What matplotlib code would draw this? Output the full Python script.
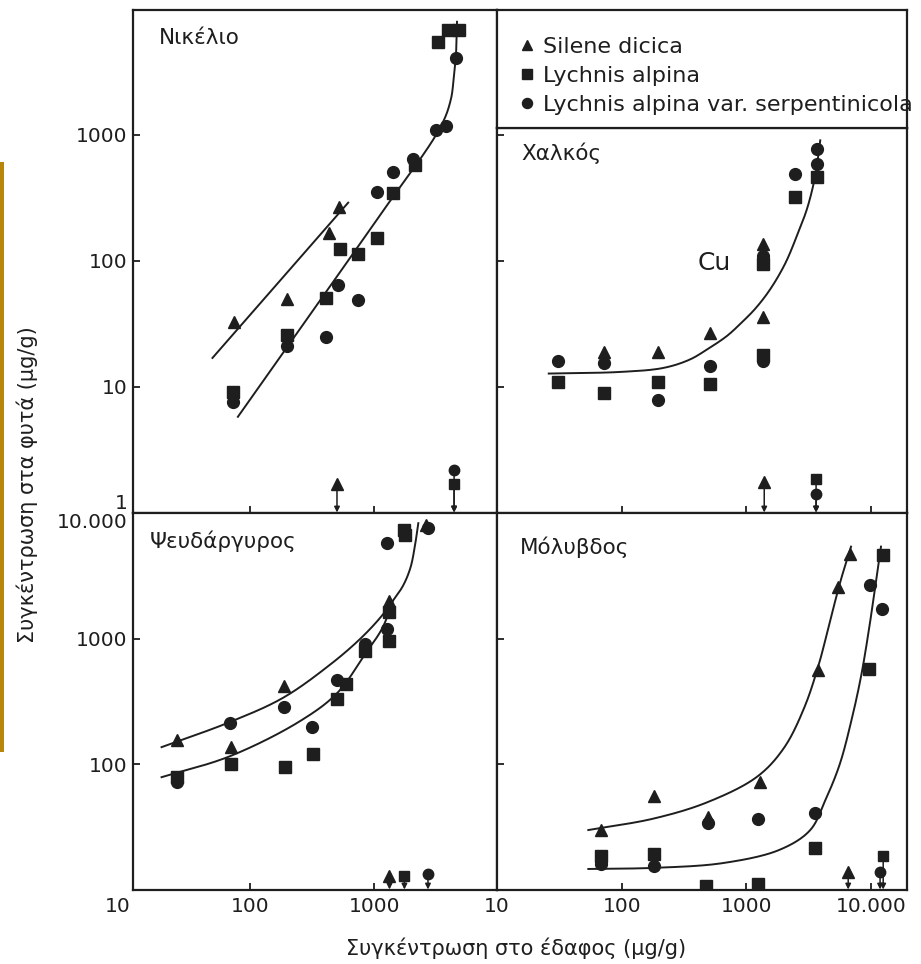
import matplotlib
matplotlib.use('Agg')
import numpy as np
import matplotlib.pyplot as plt
from matplotlib.patches import Rectangle
from matplotlib.ticker import FixedLocator, NullLocator

plt.rcParams['font.family'] = ['DejaVu Sans']

INK = '#1e1e1e'

# ---------------- data (µg/g) ----------------
# Nickel
ni_sil_x = [75, 200, 430, 520]
ni_sil_y = [33, 50, 167, 270]
ni_lyc_x = [73, 200, 410, 530, 740, 1040, 1420, 2130, 3230, 3900, 4770]
ni_lyc_y = [9.1, 26, 51, 124, 114, 153, 346, 580, 5470, 6800, 6800]
ni_ser_x = [73, 200, 410, 510, 740, 1040, 1420, 2050, 3100, 3740, 4500]
ni_ser_y = [7.6, 21, 25, 65, 49, 353, 510, 645, 1100, 1180, 4090]
ni_dl_x = [500, 4360, 4360]          # below detection limit (sil, lyc, ser)
ni_dl_y = [1.7, 1.7, 2.2]
ni_c1_x = [50, 615]
ni_c1_y = [17, 290]
ni_c2_x = [80, 1000, 3400, 4100, 4340, 4500, 4580, 4600]
ni_c2_y = [5.8, 200, 1160, 1900, 2890, 4090, 6800, 7900]

# Copper
cu_sil_x = [72, 194, 506, 1370, 1370]
cu_sil_y = [19, 19, 27, 36, 136]
cu_lyc_x = [31, 72, 194, 506, 1370, 1370, 2470, 3700]
cu_lyc_y = [11, 8.9, 11, 10.5, 18, 95, 323, 465]
cu_ser_x = [31, 72, 194, 506, 1370, 1370, 2470, 3700, 3700]
cu_ser_y = [16, 15.5, 7.9, 14.7, 16, 110, 490, 590, 775]
cu_dl_x = [1390, 3620, 3620]
cu_dl_y = [1.75, 1.85, 1.42]
cu_c_x = [26, 100, 217, 350, 488, 700, 900, 1180, 1556, 2050, 2560, 3080, 3570, 3910]
cu_c_y = [12.8, 13.2, 14.2, 16.5, 20, 25.5, 32, 42, 60, 96, 162, 265, 480, 910]

# Zinc
zn_sil_x = [26, 70, 188, 1300, 2600]
zn_sil_y = [155, 137, 421, 1980, 8000]
zn_lyc_x = [26, 70, 190, 322, 500, 590, 845, 1300, 1300, 1720, 1760]
zn_lyc_y = [80, 100, 95, 120, 331, 436, 800, 964, 1640, 7310, 6670]
zn_ser_x = [26, 69, 188, 316, 500, 845, 1270, 1270, 2700]
zn_ser_y = [72, 213, 286, 198, 470, 912, 1200, 5750, 7600]
zn_dl_x = [1320, 1740, 2690]
zn_dl_y = [13, 13, 13.5]
zn_c1_x = [19.5, 69, 185, 441, 771, 1117, 1400, 1700, 1950, 2120, 2250]
zn_c1_y = [137, 217, 339, 622, 1000, 1476, 1990, 2650, 3700, 5600, 8300]
zn_c2_x = [19.5, 69, 253, 503, 845, 1161, 1400]
zn_c2_y = [79, 116, 221, 370, 759, 1222, 1990]

# Lead
pb_sil_x = [68, 180, 488, 1290, 3770, 5440, 6800]
pb_sil_y = [30, 56, 38, 73, 568, 2590, 4730]
pb_lyc_x = [68, 180, 470, 1250, 3560, 9640, 12500]
pb_lyc_y = [18.6, 19.5, 10.8, 11.2, 21.5, 570, 4640]
pb_ser_x = [68, 180, 488, 1250, 3560, 9780, 12200]
pb_ser_y = [16, 15.5, 34, 37, 41, 2690, 1730]
pb_dl_x = [6550, 12500, 11800]
pb_dl_y = [14, 18.6, 14]
pb_c1_x = [54, 180, 488, 1225, 2000, 2900, 3800, 4700, 5700, 6900]
pb_c1_y = [30, 37, 50, 80, 135, 280, 620, 1400, 2900, 5400]
pb_c2_x = [54, 180, 655, 1870, 3250, 4300, 5600, 7000, 8300, 9500, 10800, 12000]
pb_c2_y = [14.7, 15, 16.4, 21, 30, 52, 100, 230, 500, 1100, 2600, 5400]

species = ['Silene dicica', 'Lychnis alpina', 'Lychnis alpina var. serpentinicola']
markers = ['^', 's', 'o']
msizes = [9, 8, 8.5]

# ---------------- figure ----------------
W, H = 921, 964
fig = plt.figure(figsize=(W / 100, H / 100), dpi=100)


def box(x0, y0, x1, y1):
    return [x0 / W, 1 - y1 / H, (x1 - x0) / W, (y1 - y0) / H]


ax_ni = fig.add_axes(box(133, 10, 497, 513))
ax_cu = fig.add_axes(box(497, 128, 907, 513))
ax_lg = fig.add_axes(box(497, 10, 907, 128))
ax_zn = fig.add_axes(box(133, 513, 497, 890))
ax_pb = fig.add_axes(box(497, 513, 907, 890))

LEFT_X = (11.5, 9640)
RIGHT_X = (10, 19400)


def style(ax, xlim, ylim):
    ax.set_xscale('log')
    ax.set_yscale('log')
    ax.set_xlim(*xlim)
    ax.set_ylim(*ylim)
    for s in ax.spines.values():
        s.set_linewidth(1.6)
        s.set_color(INK)
    ax.xaxis.set_minor_locator(NullLocator())
    ax.yaxis.set_minor_locator(NullLocator())
    ax.tick_params(which='major', direction='in', length=5, width=1.3,
                   color=INK, labelcolor=INK, labelsize=14.5)
    ax.tick_params(axis='x', pad=5)
    ax.tick_params(axis='y', pad=4)


def smooth_log(xs, ys, n=24):
    """Centripetal Catmull-Rom through the read-off knots, in log-log space."""
    P = np.column_stack([np.log10(xs), np.log10(ys)])
    if len(P) < 3:
        return 10 ** P[:, 0], 10 ** P[:, 1]
    P = np.vstack([2 * P[0] - P[1], P, 2 * P[-1] - P[-2]])
    out = [P[1]]
    for i in range(1, len(P) - 2):
        p0, p1, p2, p3 = P[i - 1], P[i], P[i + 1], P[i + 2]
        t0 = 0.0
        t1 = t0 + np.linalg.norm(p1 - p0) ** 0.5
        t2 = t1 + np.linalg.norm(p2 - p1) ** 0.5
        t3 = t2 + np.linalg.norm(p3 - p2) ** 0.5
        t = np.linspace(t1, t2, n)[1:, None]
        a1 = (t1 - t) / (t1 - t0) * p0 + (t - t0) / (t1 - t0) * p1
        a2 = (t2 - t) / (t2 - t1) * p1 + (t - t1) / (t2 - t1) * p2
        a3 = (t3 - t) / (t3 - t2) * p2 + (t - t2) / (t3 - t2) * p3
        b1 = (t2 - t) / (t2 - t0) * a1 + (t - t0) / (t2 - t0) * a2
        b2 = (t3 - t) / (t3 - t1) * a2 + (t - t1) / (t3 - t1) * a3
        c = (t2 - t) / (t2 - t1) * b1 + (t - t1) / (t2 - t1) * b2
        out.extend(c)
    out = np.array(out)
    return 10 ** out[:, 0], 10 ** out[:, 1]


def draw(ax, data, dl_x, dl_y, curves, ymin):
    handles = []
    for i, (xs, ys) in enumerate(data):
        h, = ax.plot(xs, ys, linestyle='none', marker=markers[i], ms=msizes[i],
                     color=INK, mec=INK, label=species[i], zorder=3)
        handles.append(h)
    for i, (x, y) in enumerate(zip(dl_x, dl_y)):
        ax.plot([x], [y], linestyle='none', marker=markers[i], ms=msizes[i] - 1,
                color=INK, zorder=3)
        ax.annotate('', xy=(x, ymin * 1.01), xytext=(x, y * 0.93),
                    arrowprops=dict(arrowstyle='-|>', lw=1.1, color=INK,
                                    mutation_scale=8, shrinkA=0, shrinkB=0))
    for cx, cy in curves:
        sx, sy = smooth_log(cx, cy)
        ax.plot(sx, sy, color=INK, lw=1.4, zorder=2)
    return handles


# Nickel
style(ax_ni, LEFT_X, (1, 9800))
h = draw(ax_ni, [(ni_sil_x, ni_sil_y), (ni_lyc_x, ni_lyc_y), (ni_ser_x, ni_ser_y)],
         ni_dl_x, ni_dl_y, [(ni_c1_x, ni_c1_y), (ni_c2_x, ni_c2_y)], 1)
ax_ni.xaxis.set_major_locator(FixedLocator([100, 1000]))
ax_ni.set_xticklabels([])
ax_ni.yaxis.set_major_locator(FixedLocator([1, 10, 100, 1000]))
ax_ni.set_yticklabels(['1', '10', '100', '1000'])
ax_ni.get_yticklabels()[0].set_verticalalignment('bottom')
ax_ni.text(0.07, 0.945, 'Νικέλιο', transform=ax_ni.transAxes, fontsize=15.5,
           color=INK, ha='left', va='center')

# Copper
style(ax_cu, RIGHT_X, (1, 1140))
draw(ax_cu, [(cu_sil_x, cu_sil_y), (cu_lyc_x, cu_lyc_y), (cu_ser_x, cu_ser_y)],
     cu_dl_x, cu_dl_y, [(cu_c_x, cu_c_y)], 1)
ax_cu.xaxis.set_major_locator(FixedLocator([100, 1000, 10000]))
ax_cu.set_xticklabels([])
ax_cu.yaxis.set_major_locator(FixedLocator([10, 100, 1000]))
ax_cu.set_yticklabels([])
ax_cu.text(0.06, 0.935, 'Χαλκός', transform=ax_cu.transAxes, fontsize=15.5,
           color=INK, ha='left', va='center')
ax_cu.text(0.53, 0.65, 'Cu', transform=ax_cu.transAxes, fontsize=18,
           color=INK, ha='center', va='center')

# Zinc
style(ax_zn, LEFT_X, (10, 10000))
draw(ax_zn, [(zn_sil_x, zn_sil_y), (zn_lyc_x, zn_lyc_y), (zn_ser_x, zn_ser_y)],
     zn_dl_x, zn_dl_y, [(zn_c1_x, zn_c1_y), (zn_c2_x, zn_c2_y)], 10)
ax_zn.xaxis.set_major_locator(FixedLocator([100, 1000]))
ax_zn.set_xticklabels(['100', '1000'])
ax_zn.yaxis.set_major_locator(FixedLocator([100, 1000, 10000]))
ax_zn.set_yticklabels(['100', '1000', '10.000'])
ax_zn.get_yticklabels()[2].set_verticalalignment('top')
ax_zn.text(0.045, 0.925, 'Ψευδάργυρος', transform=ax_zn.transAxes, fontsize=15.5,
           color=INK, ha='left', va='center')

# Lead
style(ax_pb, RIGHT_X, (10, 10000))
draw(ax_pb, [(pb_sil_x, pb_sil_y), (pb_lyc_x, pb_lyc_y), (pb_ser_x, pb_ser_y)],
     pb_dl_x, pb_dl_y, [(pb_c1_x, pb_c1_y), (pb_c2_x, pb_c2_y)], 10)
ax_pb.xaxis.set_major_locator(FixedLocator([10, 100, 1000, 10000]))
ax_pb.set_xticklabels(['10', '100', '1000', '10.000'])
ax_pb.yaxis.set_major_locator(FixedLocator([100, 1000]))
ax_pb.set_yticklabels([])
ax_pb.text(0.055, 0.91, 'Μόλυβδος', transform=ax_pb.transAxes, fontsize=15.5,
           color=INK, ha='left', va='center')

# Legend box
ax_lg.set_xticks([])
ax_lg.set_yticks([])
for s in ax_lg.spines.values():
    s.set_linewidth(1.6)
    s.set_color(INK)
leg = ax_lg.legend(handles=h, labels=species, loc='upper left',
                   bbox_to_anchor=(0, 1 - 6 / 118),
                   frameon=False, fontsize=16, handlelength=0.8, handletextpad=0.34,
                   borderpad=0.45, borderaxespad=0.5, labelspacing=0.4,
                   markerscale=0.85)
for t in leg.get_texts():
    t.set_color(INK)

# shared corner label and axis titles
fig.text(118 / W, 1 - 906 / H, '10', fontsize=14.5, color=INK, ha='center', va='center')
fig.text(516 / W, 1 - 948 / H, 'Συγκέντρωση στο έδαφος (μg/g)', fontsize=15,
         color=INK, ha='center', va='center')
fig.text(27 / W, 1 - 485 / H, 'Συγκέντρωση στα φυτά (μg/g)', fontsize=15,
         color=INK, ha='center', va='center', rotation=90)

# decorative bar on the left edge
fig.add_artist(Rectangle((0, 1 - 752 / H), 4 / W, 590 / H, transform=fig.transFigure,
                         color='#B8860B', lw=0))

fig.savefig('out.png', dpi=100, facecolor='white')
